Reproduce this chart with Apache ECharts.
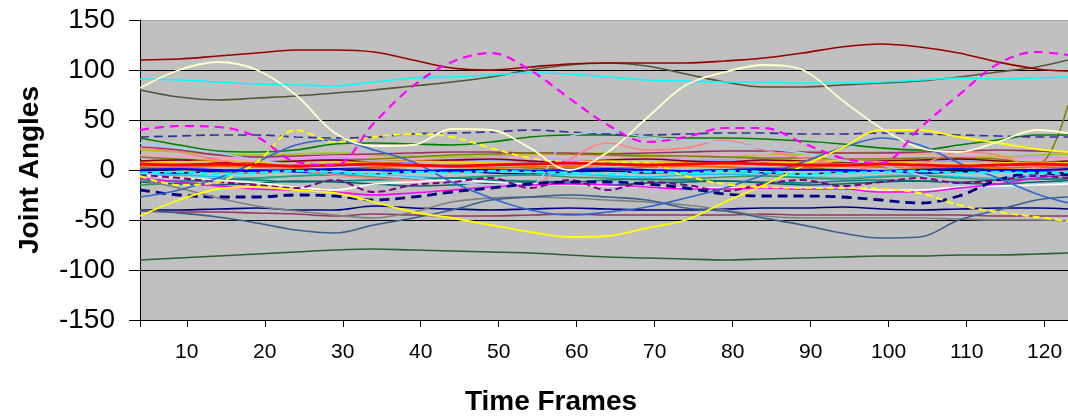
<!DOCTYPE html>
<html>
<head>
<meta charset="utf-8">
<script src="https://cdn.jsdelivr.net/npm/echarts@6/dist/echarts.min.js"></script>
<style>
html,body{margin:0;padding:0;background:#fff;}
#chart{width:1068px;height:417px;}
</style>
</head>
<body>
<div id="chart"></div>
<script>
// ---- data ----
const frames = [4,9,14,19,24,29,34,39,44,49,54,59,64,69,74,79,84,89,94,99,104,109,114,119,123];
const xTickLabels = [10,20,30,40,50,60,70,80,90,100,110,120];
const yMin = -150, yMax = 150, yStep = 50;

const maroonTop   = [110,111,114,117,120,120,118,110,102,100,103,106,107,107,107,109,112,117,123,126,123,117,108,101,99];
const creamWave   = [82,100,108,100,75,37,24,25,41,40,22,0,18,52,85,98,105,100,70,42,22,18,28,40,37];
const cyanHigh    = [91,90,88,86,85,84,88,92,93,95,97,96,93,90,89,88,88,87,87,88,90,92,91,92,93];
const oliveHigh   = [80,73,70,72,74,77,80,84,88,93,100,105,107,104,96,88,83,83,85,87,89,93,98,103,110];
const magentaWave = [40,44,43,33,8,5,47,84,108,117,100,72,45,28,33,42,42,27,12,7,42,75,106,118,115];
const yellowLow   = [-46,-30,-19,-17,-20,-23,-32,-42,-48,-55,-62,-67,-66,-58,-50,-32,-15,4,22,40,40,33,27,21,18];
const yellowDash  = [-6,-15,-12,8,40,28,33,36,33,22,12,8,8,7,-6,-14,-17,-18,-18,-19,-23,-35,-42,-47,-51];
const greenLow    = [-90,-88,-86,-84,-82,-80,-79,-80,-81,-82,-83,-85,-87,-88,-89,-90,-89,-88,-87,-86,-86,-85,-85,-84,-83];
const slateLow    = [-40,-43,-47,-53,-60,-63,-55,-48,-40,-30,-27,-25,-27,-30,-38,-41,-48,-55,-63,-68,-67,-50,-40,-30,-27];
const blueWave    = [-27,-20,-8,8,25,30,20,8,-12,-28,-40,-45,-42,-37,-28,-18,-5,8,22,32,25,7,-8,-24,-33];
const lightBlue   = [27,22,17,10,5,0,-5,-8,-12,-15,-15,33,38,33,30,27,22,17,10,5,-5,-15,-18,-15,-12];
const salmon      = [22,18,10,5,0,-5,-8,-10,-12,-15,-15,10,27,20,22,30,20,12,5,0,5,18,15,2,0];
const navyDash    = [-20,-25,-27,-27,-25,-26,-30,-27,-22,-18,-14,-12,-12,-14,-18,-24,-26,-26,-27,-30,-33,-26,-10,-3,-5];
const navySolid   = [-40,-40,-39,-38,-40,-40,-36,-38,-39,-40,-39,-38,-39,-40,-40,-39,-38,-38,-37,-39,-40,-39,-38,-38,-39];
const plumLow     = [-41,-42,-42,-43,-44,-46,-44,-45,-46,-46,-45,-44,-45,-45,-45,-45,-44,-45,-45,-45,-45,-45,-46,-46,-46];
const grayLow     = [-10,-18,-28,-36,-41,-45,-48,-42,-32,-28,-27,-28,-30,-32,-35,-40,-46,-48,-48,-48,-48,-49,-50,-50,-51];
const whiteLine   = [-5,-8,-10,-13,-17,-20,-14,-12,-10,-12,-14,-15,-16,-17,-18,-18,-18,-18,-19,-20,-20,-17,-16,-15,-14];
const magentaLow  = [-8,-12,-16,-19,-20,-22,-25,-23,-20,-17,-15,-14,-15,-17,-19,-19,-18,-19,-19,-22,-22,-18,-14,-8,-5];
const slateDash   = [33,34,35,35,33,32,33,36,37,38,40,38,36,35,36,37,37,36,36,37,36,35,34,33,33];
const greenMid    = [32,25,19,18,20,26,27,26,25,28,33,35,35,33,32,32,31,29,26,22,20,25,30,35,35];
const purpleJag   = [-5,-8,-12,-15,-18,-10,-22,-15,-12,-8,-18,-10,-20,-12,-15,-21,-14,-10,-16,-12,-8,-13,-10,-6,-8];
const redMid      = [6,5,6,5,4,5,6,5,4,5,6,7,6,5,6,7,6,5,5,6,5,4,5,6,5];
const blueMid     = [0,1,0,-1,0,1,0,-1,0,0,-1,0,1,0,-1,0,1,0,0,-1,0,1,0,0,1];
const orangeMid   = [3,2,4,3,2,1,3,4,3,2,3,4,2,3,4,3,2,3,4,3,2,3,2,3,2];
const cyanMid     = [-3,-2,-4,-3,-1,-2,-4,-2,-3,-1,-2,-3,-4,-2,-3,-1,-2,-4,-3,-2,-1,-3,-2,-3,-2];
const tealMid     = [-10,-11,-9,-10,-12,-11,-10,-9,-8,-10,-11,-12,-10,-9,-10,-11,-12,-13,-11,-10,-11,-12,-10,-9,-10];
const oliveMid    = [13,11,9,8,9,10,11,13,15,16,17,16,15,14,14,13,12,12,11,11,12,12,11,5,65];
const maroonMid   = [9,10,8,7,9,10,8,9,10,11,9,8,10,11,9,8,10,9,8,9,10,11,9,8,9];
const plumMid     = [23,20,15,13,14,15,16,17,18,18,17,17,16,17,18,19,19,18,17,17,18,19,20,19,18];
const lavender    = [8,7,5,3,2,4,6,8,9,10,8,6,5,7,9,10,8,6,5,7,8,9,7,6,5];
const pinkMid     = [15,14,12,10,12,14,13,11,10,12,14,15,13,12,14,16,15,13,12,14,15,14,12,11,12];
const brownMid    = [2,0,-2,-3,-1,1,2,0,-2,-1,1,2,0,-1,-2,0,1,2,0,-1,1,2,0,-1,0];
const darkTeal    = [-12,-14,-15,-13,-11,-12,-14,-16,-15,-13,-12,-14,-15,-13,-12,-11,-13,-15,-14,-12,-11,-13,-14,-12,-11];
const skyMid      = [-6,-5,-7,-8,-6,-4,-5,-7,-8,-6,-5,-4,-6,-7,-5,-4,-6,-7,-8,-6,-5,-7,-8,-6,-5];
const seaGreen    = [-15,-13,-10,-8,-6,-5,-7,-9,-8,-6,-5,-7,-8,-10,-9,-7,-6,-8,-9,-7,-6,-8,-10,-9,-8];
const goldMid     = [7,8,9,8,6,7,8,9,8,7,6,8,9,8,7,6,7,8,9,8,7,6,7,8,7];
const limeMid     = [20,18,16,15,16,17,15,14,13,14,15,16,17,15,14,13,15,16,17,18,16,14,13,15,16];
const navyMid     = [-2,-3,-1,0,-2,-3,-4,-2,-1,-3,-4,-2,-1,-3,-2,-1,-3,-4,-2,-1,-3,-2,-1,-2,-3];
const violetMid   = [12,10,8,9,11,12,10,9,11,13,12,10,9,11,12,13,11,10,12,13,11,10,12,13,12];

// ---- styles (kept separate from values) ----
const seriesDefs = [
  [limeMid,'#99CC00',1.5,'solid'],
  [violetMid,'#CC99FF',1.5,'solid'],
  [plumMid,'#993366',1.6,'solid'],
  [pinkMid,'#FF99CC',1.5,'solid'],
  [oliveMid,'#808000',1.6,'solid'],
  [lavender,'#9999FF',1.5,'solid'],
  [maroonMid,'#800000',1.6,'solid'],
  [goldMid,'#FFCC00',1.6,'solid'],
  [orangeMid,'#FF6600',1.8,'solid'],
  [brownMid,'#996633',1.5,'solid'],
  [navyMid,'#000099',1.6,'solid'],
  [skyMid,'#00CCFF',1.6,'solid'],
  [seaGreen,'#339966',1.5,'solid'],
  [tealMid,'#008080',1.6,'solid'],
  [darkTeal,'#006666',1.5,'solid'],
  [greenMid,'#008000',1.6,'solid'],
  [slateDash,'#333399',1.7,[9,5]],
  [salmon,'#FF8080',1.6,'solid'],
  [lightBlue,'#A6CAF0',1.6,'solid'],
  [whiteLine,'#FFFFFF',1.7,'solid'],
  [magentaLow,'#FF00FF',1.6,'solid'],
  [purpleJag,'#800080',2,[7,4]],
  [navyDash,'#000080',2.8,[10,6]],
  [navySolid,'#000080',1.6,'solid'],
  [plumLow,'#993366',1.6,'solid'],
  [grayLow,'#808080',1.6,'solid'],
  [slateLow,'#3A5F8A',1.6,'solid'],
  [greenLow,'#2E5E2E',1.6,'solid'],
  [blueWave,'#3366CC',1.7,'solid'],
  [yellowLow,'#FFFF00',1.8,'solid'],
  [yellowDash,'#FFFF00',1.9,[7,4]],
  [blueMid,'#0000FF',2.2,'solid'],
  [cyanMid,'#00FFFF',2.6,[8,4]],
  [redMid,'#FF0000',2.8,'solid'],
  [oliveHigh,'#555533',1.6,'solid'],
  [cyanHigh,'#00FFFF',1.7,'solid'],
  [maroonTop,'#990000',1.6,'solid'],
  [creamWave,'#FFFFCC',1.8,'solid'],
  [magentaWave,'#FF00FF',2.2,[9,6]]
];

const series = seriesDefs.map(function(d){
  return {
    type:'line',
    data: frames.map(function(f, j){ return [f, d[0][j]]; }),
    showSymbol:false,
    smooth:0.35,
    silent:true,
    lineStyle:{color:d[1], width:d[2], type:d[3]},
    z: 2
  };
});

const chart = echarts.init(document.getElementById('chart'), null, {renderer:'canvas'});
chart.setOption({
  animation:false,
  backgroundColor:'#FFFFFF',
  textStyle:{fontFamily:'Liberation Sans, Arial, sans-serif'},
  grid:{left:140, right:0, top:20, bottom:97, show:true, backgroundColor:'#C0C0C0', borderWidth:0,
        containLabel:false, outerBoundsMode:'none'},
  xAxis:{
    type:'value', min:4, max:123,
    name:'Time Frames', nameLocation:'middle', nameGap:68,
    nameTextStyle:{fontSize:28, fontWeight:'bold', color:'#000', padding:[0,106,0,0]},
    axisLine:{show:true, onZero:false, lineStyle:{color:'#000', width:1}},
    axisTick:{show:true, customValues:[4].concat(xTickLabels), length:7, lineStyle:{color:'#000'}},
    axisLabel:{customValues:xTickLabels, fontSize:21, color:'#000', margin:22},
    splitLine:{show:false}
  },
  yAxis:{
    type:'value', min:yMin, max:yMax, interval:yStep,
    name:'Joint Angles', nameLocation:'middle', nameGap:96,
    nameTextStyle:{fontSize:28, fontWeight:'bold', color:'#000'},
    axisLine:{show:true, lineStyle:{color:'#000', width:1}},
    axisTick:{show:true, length:11, lineStyle:{color:'#000'}},
    axisLabel:{fontSize:28, color:'#000', margin:25},
    splitLine:{show:true, lineStyle:{color:['#000','#000','#000','#000','#000','#000','#A0A0A0'], width:1.2}}
  },
  series: series
});
</script>
</body>
</html>
